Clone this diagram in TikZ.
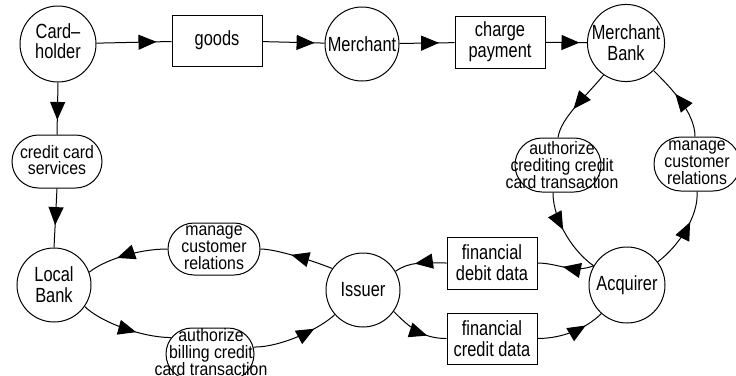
\documentclass[tikz,border=0pt]{standalone}
\usepackage{fontspec}
\setmainfont{Liberation Sans}[FakeStretch=0.8]
\newfontfamily\stfont{Liberation Sans}[FakeStretch=0.88]
\usetikzlibrary{arrows.meta,decorations.markings,shapes.misc}
\begin{document}
\begin{tikzpicture}[x=1pt,y=-1pt,
  every node/.style={font=\fontsize{20.5}{21}\selectfont, line width=1pt},
  circ/.style={draw, circle, minimum size=76pt, inner sep=0pt, align=center},
  box/.style={draw, rectangle, minimum width=90pt, minimum height=52pt, inner sep=0pt, align=center},
  stad/.style={draw, rounded rectangle, minimum width=90pt, minimum height=53pt, inner sep=0pt},
  stxt/.style={align=center, font=\stfont\fontsize{18}{16.8}\selectfont, inner sep=0pt},
  flow/.style={line width=1pt, postaction={decorate},
    decoration={markings, mark=at position #1 with {\arrow{Triangle[length=18pt,width=15pt]}}}},
  flow/.default=0.75]
\useasboundingbox (0,0) rectangle (736,375);

% nodes
\node[circ] (ch) at (58,44) {\raisebox{-4pt}{\begin{tabular}{@{}c@{}}Card--\\[-1pt]holder\end{tabular}}};
\node[box, minimum height=51pt] (goods) at (217,40.5) {goods};
\node[circ, minimum size=74pt] (m) at (362,44) {Merchant};
\node[box] (cp) at (500,42) {charge\\payment};
\node[circ] (mb) at (626,43) {Merchant\\Bank};

\node[stad] (ccs) at (57,161.5) {};
\node[stxt] (ccst) at (57,160) {credit card\\services};

\node[circ, minimum size=74pt] (lb) at (54,285) {Local\\Bank};
\node[circ, minimum size=74pt] (is) at (363,290) {Issuer};
\node[circ] (ac) at (627,285) {Acquirer};

\node[stad, minimum width=92pt, minimum height=52pt] (ml) at (214,249) {};
\node[stxt] (mlt) at (214,248) {manage\\customer\\relations};

\node[stad, minimum width=88pt, minimum height=52pt] (ab) at (210,354) {};
\node[stxt] (abt) at (211,352) {authorize\\billing credit\\card transaction};

\node[box] (fd) at (492,263) {financial\\debit data};
\node[box, minimum height=51pt] (fc) at (492,338.5) {financial\\credit data};

\node[stad, minimum width=86pt, minimum height=54pt] (acr) at (558,165) {};
\node[stxt] (acrt) at (562,165) {authorize\\crediting credit\\card transaction};

\node[stad, minimum width=86pt, minimum height=54pt] (mr) at (697,164) {};
\node[stxt] (mrt) at (697,163) {manage\\customer\\relations};

% straight connectors
\draw[flow=0.8] (ch) -- (goods);
\draw[flow=0.84] (goods) -- (m);
\draw[flow=0.72] (m) -- (cp);
\draw[flow=0.82] (cp) -- (mb);
\draw[flow=0.72] (ch.south) -- (ccs.north);
\draw[flow=0.62] (ccs.south) -- (lb.north);

% loop between Merchant Bank and Acquirer
\draw[flow=0.58] (mb.235) .. controls +(-18,22) and +(3,-20) .. (acr.north);
\draw[flow=0.45] ([xshift=-5pt]acr.south) .. controls +(0,30) and +(-18,-12) .. (ac.150);
\draw[flow=0.62] (ac.37) .. controls +(20,-15) and +(2,25) .. (mr.south);
\draw[flow=0.6] ([xshift=-2pt]mr.north) .. controls +(0,-25) and +(15,15) .. (mb.-45);

% Acquirer / Issuer
\draw[flow=0.55] (ac.150) .. controls +(-20,8) and +(20,0) .. (fd.east);
\draw[flow=0.6] (fd.west) .. controls +(-25,0) and +(15,-10) .. (is.30);
\draw[flow=0.68] (is.-35) .. controls +(15,15) and +(-25,0) .. (fc.west);
\draw[flow=0.72] (fc.east) .. controls +(25,0) and +(-15,15) .. (ac.228);

% Issuer / Local Bank
\draw[flow=0.58] (is.145) .. controls +(-20,-8) and +(15,0) .. (ml.east);
\draw[flow=0.62] (ml.west) .. controls +(-30,0) and +(15,-12) .. (lb.20);
\draw[flow=0.62] (lb.-35) .. controls +(15,15) and +(-30,0) .. (ab.157);
\draw[flow=0.72] (ab.9) .. controls +(30,0) and +(-12,12) .. (is.221);
\end{tikzpicture}
\end{document}
